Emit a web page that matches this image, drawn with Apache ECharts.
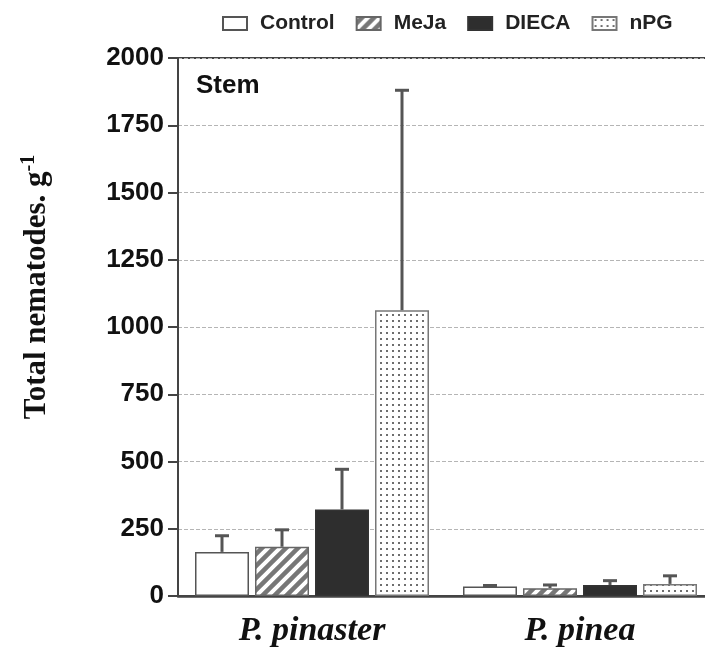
<!DOCTYPE html>
<html>
<head>
<meta charset="utf-8">
<script src="https://cdn.jsdelivr.net/npm/echarts@6/dist/echarts.min.js"></script>
<style>
  html, body { margin: 0; padding: 0; background: #fff; overflow: hidden; }
  #chart { width: 705px; height: 647px; }
</style>
</head>
<body>
<div id="chart"></div>
<script>
// Plant species (x categories)
const categories = ['P. pinaster', 'P. pinea'];
// Treatment names
const treatments = ['Control', 'MeJa', 'DIECA', 'nPG'];
// Mean total nematodes per gram (stem), per species
const controlMean = [164, 35];
const mejaMean = [183, 29];
const diecaMean = [322, 41];
const npgMean = [1062, 45];
// Upper error (SE) per species
const controlErr = [60, 4];
const mejaErr = [63, 12];
const diecaErr = [149, 16];
const npgErr = [818, 30];
// Y axis ticks
const yMin = 0, yMax = 2000, yStep = 250;

// Fill patterns
function hatchPattern() {
  const c = document.createElement('canvas');
  c.width = 12; c.height = 12;
  const g = c.getContext('2d');
  g.fillStyle = '#777777';
  g.fillRect(0, 0, 12, 12);
  g.strokeStyle = '#ffffff';
  g.lineWidth = 4;
  g.beginPath();
  g.moveTo(-6, 18); g.lineTo(18, -6);
  g.moveTo(-6, 6); g.lineTo(6, -6);
  g.moveTo(6, 18); g.lineTo(18, 6);
  g.stroke();
  return { image: c, repeat: 'repeat' };
}
function dotPattern() {
  const c = document.createElement('canvas');
  c.width = 6; c.height = 6;
  const g = c.getContext('2d');
  g.fillStyle = '#ffffff';
  g.fillRect(0, 0, 6, 6);
  g.fillStyle = '#6e6e6e';
  g.fillRect(2, 2, 2, 2);
  return { image: c, repeat: 'repeat' };
}

const fills = ['#ffffff', hatchPattern(), '#2e2e2e', dotPattern()];
const borders = ['#555555', '#666666', '#333333', '#777777'];
const means = [controlMean, mejaMean, diecaMean, npgMean];
const errs = [controlErr, mejaErr, diecaErr, npgErr];

const BAR_W = 54;
const BAR_GAP = 6;
const offsets = [-1.5, -0.5, 0.5, 1.5].map(k => k * (BAR_W + BAR_GAP));

const barSeries = treatments.map((name, i) => ({
  name: name,
  type: 'bar',
  data: means[i],
  barWidth: BAR_W,
  barGap: (BAR_GAP / BAR_W * 100) + '%',
  itemStyle: { color: fills[i], borderColor: borders[i], borderWidth: 1.5 },
  z: 2,
  animation: false
}));

const errSeries = treatments.map((name, i) => ({
  type: 'custom',
  name: name + ' error',
  data: means[i].map((m, j) => [j, m, m + errs[i][j]]),
  renderItem: function (params, api) {
    const lo = api.coord([api.value(0), api.value(1)]);
    const hi = api.coord([api.value(0), api.value(2)]);
    const x = lo[0] + offsets[i];
    const cap = 7;
    return {
      type: 'group',
      children: [
        { type: 'line', shape: { x1: x, y1: lo[1], x2: x, y2: hi[1] },
          style: { stroke: '#555', lineWidth: 3 } },
        { type: 'line', shape: { x1: x - cap, y1: hi[1], x2: x + cap, y2: hi[1] },
          style: { stroke: '#555', lineWidth: 3 } }
      ]
    };
  },
  z: 1,
  silent: true,
  animation: false
}));

const chart = echarts.init(document.getElementById('chart'), null, { renderer: 'canvas' });
chart.setOption({
  backgroundColor: '#ffffff',
  animation: false,
  legend: {
    data: treatments,
    left: 217,
    top: 8,
    itemWidth: 24,
    itemHeight: 13,
    itemGap: 21,
    icon: 'rect',
    textStyle: { fontFamily: 'Liberation Sans, Arial, sans-serif', fontWeight: 'bold', fontSize: 21, color: '#222', padding: [0, 0, 0, 8] }
  },
  grid: {
    left: 178, top: 58, width: 536, bottom: 51,
    outerBoundsMode: 'none',
    show: true, borderColor: '#444', borderWidth: 2, containLabel: false
  },
  xAxis: {
    type: 'category',
    data: categories,
    axisLine: { lineStyle: { color: '#444', width: 2.5 } },
    axisTick: { show: false },
    axisLabel: {
      margin: 18,
      fontFamily: 'Liberation Serif, Times New Roman, serif',
      fontWeight: 'bold', fontStyle: 'italic', fontSize: 34, color: '#111'
    }
  },
  yAxis: {
    type: 'value',
    min: yMin, max: yMax, interval: yStep,
    axisLine: { show: true, lineStyle: { color: '#444', width: 2 } },
    axisTick: { show: true, inside: false, length: 10, lineStyle: { color: '#444', width: 2 } },
    axisLabel: {
      margin: 14,
      formatter: v => String(v),
      fontFamily: 'Liberation Sans, Arial, sans-serif',
      fontWeight: 'bold', fontSize: 26, color: '#111'
    },
    splitLine: { show: true, lineStyle: { color: '#b5b5b5', type: [4, 2], width: 1 } }
  },
  graphic: [
    {
      type: 'text',
      x: 37, y: 287,
      rotation: Math.PI / 2,
      style: {
        text: '{m|Total nematodes. g}{s|-1}',
        align: 'center',
        verticalAlign: 'middle',
        rich: {
          m: { fontFamily: 'Liberation Serif, Times New Roman, serif', fontWeight: 'bold', fontSize: 31, fill: '#111', lineHeight: 36 },
          s: { fontFamily: 'Liberation Serif, Times New Roman, serif', fontWeight: 'bold', fontSize: 20, fill: '#111', verticalAlign: 'top', lineHeight: 36, padding: [0, 0, 14, 0] }
        }
      }
    },
    {
      type: 'text',
      left: 196, top: 73,
      style: {
        text: 'Stem',
        fontFamily: 'Liberation Sans, Arial, sans-serif',
        fontWeight: 'bold', fontSize: 26, fill: '#111'
      }
    }
  ],
  series: barSeries.concat(errSeries)
});
</script>
</body>
</html>
